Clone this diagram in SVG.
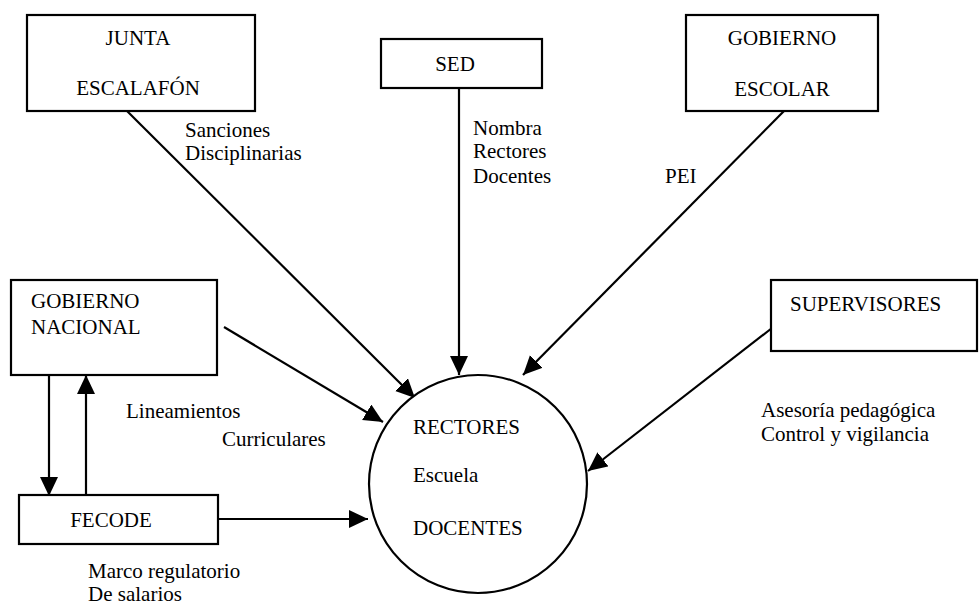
<svg xmlns="http://www.w3.org/2000/svg" width="979" height="605" viewBox="0 0 979 605">
<style>
text{font-family:"Times New Roman",Times,"Liberation Serif",Tinos,"DejaVu Serif",serif;font-size:21px;fill:#000}
.box{fill:#fff;stroke:#000;stroke-width:2.2}
.c{fill:none;stroke:#000;stroke-width:2.2}
.mid{text-anchor:middle}
</style>
<defs>
<marker id="ah" markerUnits="userSpaceOnUse" markerWidth="20" markerHeight="20" refX="19" refY="9" orient="auto">
<path d="M0,0 L19,9 L0,18 z" fill="#000"/>
</marker>
</defs>
<rect width="979" height="605" fill="#fff"/>
<g id="connectors">
<line class="c" x1="127" y1="111" x2="415" y2="398" marker-end="url(#ah)"/>
<line class="c" x1="459" y1="88" x2="459" y2="375" marker-end="url(#ah)"/>
<line class="c" x1="784" y1="111" x2="523" y2="375" marker-end="url(#ah)"/>
<line class="c" x1="224" y1="327" x2="383" y2="422" marker-end="url(#ah)"/>
<line class="c" x1="772" y1="328" x2="588" y2="471" marker-end="url(#ah)"/>
<line class="c" x1="218" y1="519" x2="368" y2="519" marker-end="url(#ah)"/>
<line class="c" x1="49" y1="375" x2="49" y2="496" marker-end="url(#ah)"/>
<line class="c" x1="86" y1="495" x2="86" y2="375" marker-end="url(#ah)"/>
<text x="185" y="137">Sanciones</text>
<text x="185" y="160">Disciplinarias</text>
<text x="473" y="135">Nombra</text>
<text x="473" y="158">Rectores</text>
<text x="473" y="183">Docentes</text>
<text x="665" y="183">PEI</text>
<text x="126" y="418">Lineamientos</text>
<text x="222" y="446">Curriculares</text>
<text x="88" y="578">Marco regulatorio</text>
<text x="88" y="601">De salarios</text>
<text x="761" y="417">Asesoría pedagógica</text>
<text x="761" y="441">Control y vigilancia</text>
</g>
<g id="junta">
<rect class="box" x="27" y="15" width="228" height="96"/>
<text class="mid" x="138" y="45">JUNTA</text>
<text class="mid" x="138" y="95">ESCALAFÓN</text>
</g>
<g id="sed">
<rect class="box" x="381" y="39" width="161" height="49"/>
<text class="mid" x="455" y="71">SED</text>
</g>
<g id="gobierno-escolar">
<rect class="box" x="686" y="15" width="192" height="96"/>
<text class="mid" x="782" y="45">GOBIERNO</text>
<text class="mid" x="782" y="96">ESCOLAR</text>
</g>
<g id="gobierno-nacional">
<rect class="box" x="11" y="280" width="206" height="95"/>
<text x="31" y="308">GOBIERNO</text>
<text x="31" y="334">NACIONAL</text>
</g>
<g id="fecode">
<rect class="box" x="19" y="495" width="199" height="49"/>
<text class="mid" x="111" y="527">FECODE</text>
</g>
<g id="supervisores">
<rect class="box" x="771" y="280" width="206" height="71"/>
<text x="790" y="311">SUPERVISORES</text>
</g>
<g id="rectores">
<circle class="box" cx="478" cy="484" r="109"/>
<text x="413" y="434">RECTORES</text>
<text x="413" y="482">Escuela</text>
<text x="413" y="535">DOCENTES</text>
</g>
</svg>
